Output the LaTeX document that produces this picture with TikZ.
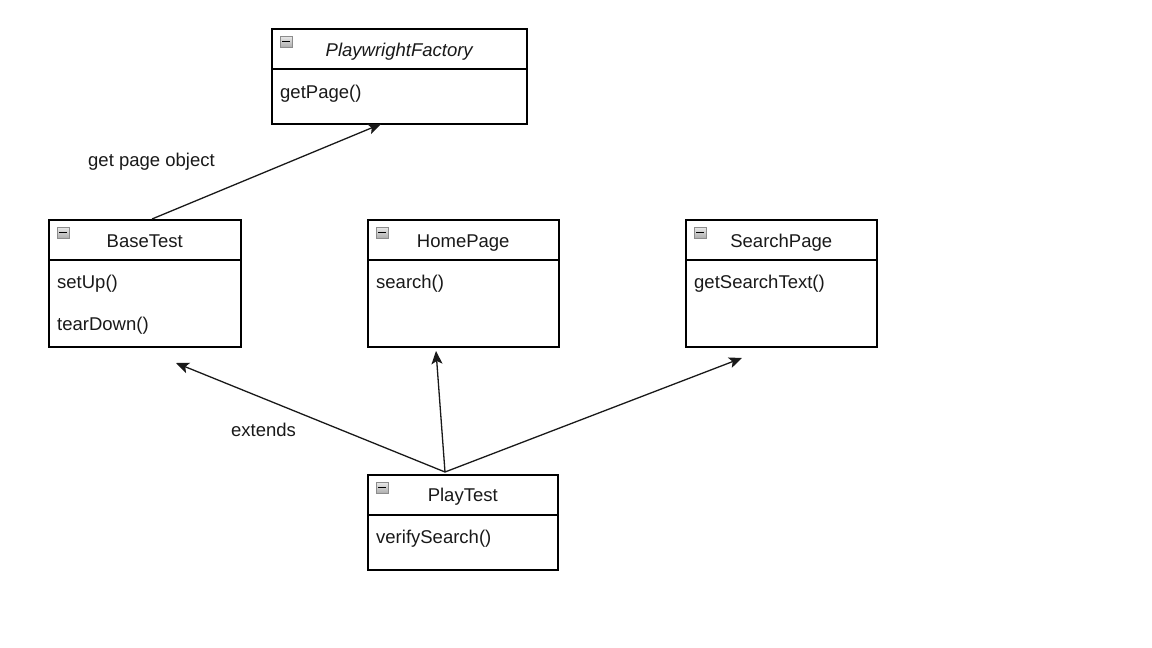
\documentclass[tikz,border=0pt]{standalone}
\usepackage{fontspec}
\setmainfont{Liberation Sans}
\usetikzlibrary{arrows.meta}
\begin{document}
\begin{tikzpicture}[x=1pt,y=-1pt,
  classbox/.style={draw=black,line width=1.5pt,fill=white,inner sep=0pt,anchor=north west},
  divider/.style={draw=black,line width=1.4pt},
  minusicon/.style={rectangle,draw=black!45,line width=0.9pt,top color=black!8,bottom color=black!32,
    minimum width=12pt,minimum height=11pt,inner sep=0pt,
    path picture={\draw[black,line width=1.8pt]
      ([xshift=2.3pt]path picture bounding box.west) -- ([xshift=-2.3pt]path picture bounding box.east);}},
  title/.style={font=\fontsize{18.5}{20}\selectfont,text=black!90,inner sep=0pt,anchor=base},
  member/.style={font=\fontsize{18.5}{20}\selectfont,text=black!90,inner sep=0pt,anchor=base west},
  lbl/.style={font=\fontsize{18.5}{20}\selectfont,text=black!90,inner sep=0pt,anchor=west},
  link/.style={draw=black!90,line width=1.3pt,-{Stealth[length=13pt,width=11pt,inset=3pt]}}
]
\useasboundingbox (0,0) rectangle (1152,648);

% PlaywrightFactory
\node[classbox,minimum width=255pt,minimum height=95pt] (pf) at (271,28) {};
\draw[divider] ([yshift=-41pt]pf.north west) -- ([yshift=-41pt]pf.north east);
\node[minusicon] (pficon) at ([shift={(15,13.5)}]pf.north west) {};
\node[title,font=\fontsize{18.5}{20}\selectfont\itshape] (pftitle) at ([shift={(0,28)}]pf.north) {PlaywrightFactory};
\node[member] (pfm1) at ([shift={(9,70)}]pf.north west) {getPage()};

% BaseTest
\node[classbox,minimum width=192pt,minimum height=127pt] (base) at (48,219) {};
\draw[divider] ([yshift=-41pt]base.north west) -- ([yshift=-41pt]base.north east);
\node[minusicon] (baseicon) at ([shift={(15,13.5)}]base.north west) {};
\node[title] (basetitle) at ([shift={(0,28)}]base.north) {BaseTest};
\node[member] (basem1) at ([shift={(9,69)}]base.north west) {setUp()};
\node[member] (basem2) at ([shift={(9,111)}]base.north west) {tearDown()};

% HomePage
\node[classbox,minimum width=191pt,minimum height=127pt] (home) at (367,219) {};
\draw[divider] ([yshift=-41pt]home.north west) -- ([yshift=-41pt]home.north east);
\node[minusicon] (homeicon) at ([shift={(15,13.5)}]home.north west) {};
\node[title] (hometitle) at ([shift={(0,28)}]home.north) {HomePage};
\node[member] (homem1) at ([shift={(9,69)}]home.north west) {search()};

% SearchPage
\node[classbox,minimum width=191pt,minimum height=127pt] (srch) at (685,219) {};
\draw[divider] ([yshift=-41pt]srch.north west) -- ([yshift=-41pt]srch.north east);
\node[minusicon] (srchicon) at ([shift={(15,13.5)}]srch.north west) {};
\node[title] (srchtitle) at ([shift={(0,28)}]srch.north) {SearchPage};
\node[member] (srchm1) at ([shift={(9,69)}]srch.north west) {getSearchText()};

% PlayTest
\node[classbox,minimum width=190pt,minimum height=95pt] (play) at (367,474) {};
\draw[divider] ([yshift=-41pt]play.north west) -- ([yshift=-41pt]play.north east);
\node[minusicon] (playicon) at ([shift={(15,13.5)}]play.north west) {};
\node[title] (playtitle) at ([shift={(0,27)}]play.north) {PlayTest};
\node[member] (playm1) at ([shift={(9,69)}]play.north west) {verifySearch()};

% connector end points
\coordinate (baseout) at (152,219);
\coordinate (pfin) at (381,124);
\coordinate (playout) at (445,472);
\coordinate (basein) at (176,363);
\coordinate (homein) at (436,351);
\coordinate (srchin) at (742,358);

\draw[link] (baseout) -- (pfin);
\draw[link] (playout) -- (basein);
\draw[link] (playout) -- (homein);
\draw[link] (playout) -- (srchin);

% labels
\node[lbl] (getlbl) at (88,162) {get page object};
\node[lbl] (extlbl) at (231,430) {extends};
\end{tikzpicture}
\end{document}
